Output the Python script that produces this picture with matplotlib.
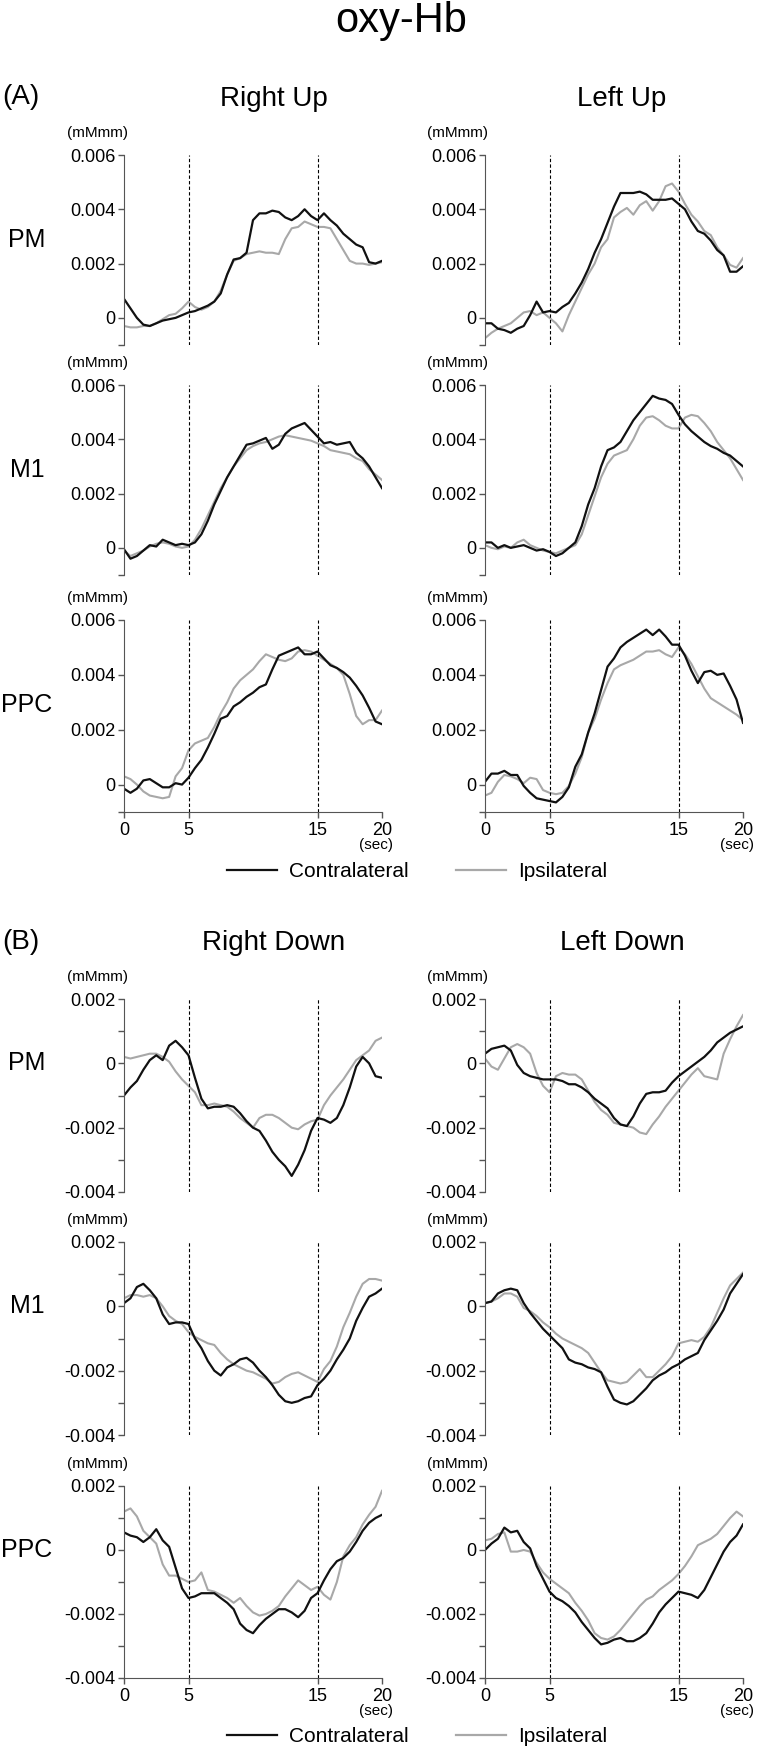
import numpy as np
import matplotlib
matplotlib.use("Agg")
import matplotlib.pyplot as plt
from matplotlib.lines import Line2D

plt.rcParams["font.family"] = ["Liberation Sans", "DejaVu Sans"]

# time axis (sec), one sample every 0.5 s
time_s = np.arange(41) * 0.5
UNIT = 0.001  # values below are in units of 0.001 mM·mm

# (A) Up condition ------------------------------------------------------
ru_pm_c = [0.7, 0.35, 0.0, -0.25, -0.3, -0.2, -0.1, -0.05, 0.0, 0.1, 0.2, 0.25, 0.35, 0.45, 0.6, 0.9, 1.6, 2.15,
           2.2, 2.4, 3.6, 3.85, 3.85, 3.95, 3.9, 3.7, 3.6, 3.75, 4.0, 3.75, 3.6, 3.85, 3.6, 3.4, 3.1, 2.9, 2.7,
           2.6, 2.05, 2.0, 2.1]
ru_pm_i = [-0.3, -0.35, -0.35, -0.3, -0.3, -0.2, -0.05, 0.1, 0.15, 0.35, 0.6, 0.4, 0.3, 0.4, 0.6, 1.0, 1.6, 2.1,
           2.2, 2.35, 2.4, 2.45, 2.4, 2.4, 2.35, 2.9, 3.3, 3.35, 3.55, 3.45, 3.35, 3.35, 3.3, 2.9, 2.5, 2.1, 2.0,
           2.0, 1.95, 2.0, 2.05]
lu_pm_c = [-0.2, -0.2, -0.4, -0.45, -0.55, -0.4, -0.3, 0.1, 0.6, 0.2, 0.25, 0.2, 0.4, 0.55, 0.9, 1.3, 1.8, 2.4,
           2.9, 3.5, 4.1, 4.6, 4.6, 4.6, 4.65, 4.55, 4.35, 4.35, 4.35, 4.4, 4.2, 4.0, 3.55, 3.2, 3.1, 2.85, 2.5,
           2.3, 1.7, 1.7, 1.9]
lu_pm_i = [-0.75, -0.55, -0.4, -0.3, -0.2, 0.0, 0.2, 0.25, 0.1, 0.2, 0.0, -0.2, -0.5, 0.1, 0.6, 1.1, 1.6, 2.0,
           2.6, 2.9, 3.7, 3.9, 4.05, 3.8, 4.15, 4.3, 3.95, 4.3, 4.85, 4.95, 4.65, 4.2, 3.8, 3.55, 3.2, 3.05, 2.6,
           2.3, 1.95, 1.85, 2.2]
ru_m1_c = [-0.05, -0.4, -0.3, -0.1, 0.1, 0.05, 0.3, 0.2, 0.1, 0.15, 0.1, 0.2, 0.5, 1.0, 1.6, 2.1, 2.6, 3.0,
           3.4, 3.8, 3.85, 3.95, 4.05, 3.65, 3.8, 4.2, 4.4, 4.5, 4.6, 4.35, 4.1, 3.85, 3.9, 3.8, 3.85, 3.9, 3.5,
           3.3, 3.0, 2.6, 2.2]
ru_m1_i = [-0.1, -0.3, -0.2, -0.1, 0.05, 0.15, 0.2, 0.15, 0.05, 0.0, 0.05, 0.3, 0.7, 1.2, 1.7, 2.2, 2.6, 3.0,
           3.3, 3.6, 3.75, 3.85, 3.9, 4.0, 4.1, 4.15, 4.1, 4.05, 4.0, 3.95, 3.85, 3.75, 3.6, 3.55, 3.5, 3.45,
           3.3, 3.2, 2.9, 2.7, 2.5]
lu_m1_c = [0.2, 0.2, 0.0, 0.1, 0.0, 0.05, 0.1, 0.0, -0.1, -0.05, -0.15, -0.3, -0.2, 0.0, 0.2, 0.8, 1.6, 2.2,
           3.0, 3.6, 3.7, 3.9, 4.3, 4.7, 5.0, 5.3, 5.6, 5.5, 5.45, 5.3, 4.9, 4.55, 4.3, 4.1, 3.9, 3.75, 3.65,
           3.5, 3.4, 3.2, 3.0]
lu_m1_i = [0.1, 0.0, -0.05, 0.05, 0.0, 0.2, 0.3, 0.1, 0.0, -0.1, -0.15, -0.2, -0.1, 0.0, 0.1, 0.5, 1.2, 1.9,
           2.6, 3.1, 3.4, 3.5, 3.6, 4.0, 4.5, 4.8, 4.85, 4.7, 4.5, 4.4, 4.4, 4.8, 4.9, 4.85, 4.6, 4.3, 3.9,
           3.6, 3.3, 2.9, 2.5]
ru_ppc_c = [-0.15, -0.3, -0.15, 0.15, 0.2, 0.05, -0.1, -0.1, 0.05, 0.0, 0.25, 0.6, 0.9, 1.35, 1.85, 2.4, 2.5,
            2.85, 3.0, 3.2, 3.35, 3.55, 3.65, 4.2, 4.7, 4.8, 4.9, 5.0, 4.75, 4.75, 4.85, 4.6, 4.35, 4.25, 4.1,
            3.9, 3.6, 3.25, 2.8, 2.3, 2.2]
ru_ppc_i = [0.3, 0.2, 0.0, -0.25, -0.4, -0.45, -0.5, -0.45, 0.3, 0.6, 1.25, 1.5, 1.6, 1.7, 2.1, 2.6, 3.0, 3.5,
            3.8, 4.0, 4.2, 4.5, 4.75, 4.65, 4.55, 4.5, 4.6, 4.85, 4.9, 4.85, 4.7, 4.55, 4.4, 4.25, 4.0, 3.3,
            2.5, 2.2, 2.35, 2.35, 2.7]
lu_ppc_c = [0.1, 0.4, 0.4, 0.5, 0.35, 0.35, -0.05, -0.3, -0.5, -0.55, -0.6, -0.65, -0.45, -0.1, 0.65, 1.1, 1.9,
            2.6, 3.45, 4.3, 4.6, 5.0, 5.2, 5.35, 5.5, 5.65, 5.45, 5.65, 5.4, 5.1, 5.1, 4.7, 4.15, 3.7, 4.1,
            4.15, 4.0, 4.05, 3.6, 3.1, 2.25]
lu_ppc_i = [-0.4, -0.3, 0.1, 0.35, 0.3, 0.2, 0.05, 0.25, 0.2, -0.2, -0.3, -0.35, -0.3, -0.05, 0.4, 1.0, 1.9,
            2.4, 3.1, 3.7, 4.2, 4.35, 4.45, 4.55, 4.7, 4.85, 4.85, 4.9, 4.75, 4.65, 5.0, 4.75, 4.4, 3.95, 3.5,
            3.15, 3.0, 2.85, 2.7, 2.55, 2.35]

# (B) Down condition ----------------------------------------------------
rd_pm_c = [-1.0, -0.75, -0.55, -0.2, 0.1, 0.25, 0.1, 0.55, 0.7, 0.5, 0.25, -0.45, -1.1, -1.4, -1.35, -1.35,
           -1.3, -1.35, -1.55, -1.8, -2.0, -2.1, -2.4, -2.75, -3.0, -3.2, -3.5, -3.15, -2.7, -2.1, -1.7, -1.75,
           -1.85, -1.7, -1.3, -0.75, -0.1, 0.2, 0.0, -0.4, -0.45]
rd_pm_i = [0.2, 0.15, 0.2, 0.25, 0.3, 0.3, 0.2, 0.05, -0.25, -0.5, -0.7, -0.9, -1.3, -1.3, -1.25, -1.3, -1.35,
           -1.5, -1.7, -1.85, -2.0, -1.7, -1.6, -1.6, -1.7, -1.85, -2.0, -2.05, -1.9, -1.8, -1.75, -1.3, -1.0,
           -0.75, -0.5, -0.2, 0.1, 0.25, 0.4, 0.7, 0.8]
ld_pm_c = [0.3, 0.45, 0.5, 0.55, 0.4, -0.05, -0.3, -0.4, -0.45, -0.5, -0.5, -0.5, -0.55, -0.65, -0.65, -0.75,
           -0.9, -1.1, -1.25, -1.4, -1.7, -1.9, -1.95, -1.65, -1.25, -0.95, -0.9, -0.9, -0.85, -0.6, -0.4,
           -0.25, -0.1, 0.05, 0.2, 0.4, 0.65, 0.8, 0.95, 1.05, 1.15]
ld_pm_i = [0.15, -0.1, -0.2, 0.15, 0.5, 0.6, 0.5, 0.3, -0.3, -0.7, -0.9, -0.4, -0.3, -0.35, -0.35, -0.5, -0.85,
           -1.2, -1.45, -1.6, -1.85, -1.9, -1.95, -2.0, -2.15, -2.2, -1.9, -1.65, -1.35, -1.1, -0.85, -0.6,
           -0.35, -0.15, -0.4, -0.45, -0.5, 0.3, 0.75, 1.15, 1.5]
rd_m1_c = [0.1, 0.25, 0.6, 0.7, 0.5, 0.25, -0.25, -0.55, -0.5, -0.5, -0.55, -1.0, -1.3, -1.7, -2.0, -2.15,
           -1.9, -1.8, -1.65, -1.6, -1.75, -2.0, -2.2, -2.45, -2.75, -2.95, -3.0, -2.95, -2.85, -2.8, -2.45,
           -2.25, -2.0, -1.65, -1.35, -1.0, -0.45, -0.05, 0.3, 0.4, 0.55]
rd_m1_i = [0.25, 0.35, 0.35, 0.3, 0.35, 0.25, 0.0, -0.3, -0.45, -0.55, -0.8, -0.95, -1.05, -1.15, -1.2, -1.45,
           -1.65, -1.8, -1.9, -2.0, -2.05, -2.15, -2.25, -2.4, -2.35, -2.2, -2.1, -2.05, -2.15, -2.25, -2.35,
           -1.95, -1.7, -1.25, -0.65, -0.2, 0.3, 0.7, 0.85, 0.85, 0.8]
ld_m1_c = [0.1, 0.15, 0.4, 0.5, 0.55, 0.5, 0.1, -0.2, -0.45, -0.7, -0.9, -1.1, -1.3, -1.65, -1.75, -1.8, -1.9,
           -1.95, -2.05, -2.5, -2.9, -3.0, -3.05, -2.95, -2.75, -2.55, -2.3, -2.15, -2.05, -1.9, -1.8, -1.65,
           -1.55, -1.45, -1.05, -0.75, -0.45, -0.1, 0.4, 0.7, 1.0]
ld_m1_i = [0.1, 0.15, 0.25, 0.4, 0.4, 0.3, -0.05, -0.15, -0.3, -0.5, -0.65, -0.85, -1.0, -1.1, -1.2, -1.3,
           -1.45, -1.75, -2.05, -2.3, -2.35, -2.4, -2.35, -2.15, -1.95, -2.2, -2.2, -2.0, -1.8, -1.55, -1.15,
           -1.1, -1.05, -1.1, -0.95, -0.65, -0.2, 0.25, 0.65, 0.85, 1.05]
rd_ppc_c = [0.55, 0.45, 0.4, 0.25, 0.4, 0.65, 0.3, 0.1, -0.55, -1.2, -1.5, -1.45, -1.35, -1.35, -1.35, -1.5,
            -1.65, -1.85, -2.3, -2.5, -2.6, -2.35, -2.15, -2.0, -1.85, -1.85, -1.95, -2.1, -1.9, -1.5, -1.35,
            -0.95, -0.6, -0.35, -0.25, -0.05, 0.25, 0.6, 0.85, 1.0, 1.1]
rd_ppc_i = [1.2, 1.3, 1.05, 0.6, 0.4, 0.2, -0.45, -0.8, -0.8, -0.9, -1.0, -0.95, -0.7, -1.25, -1.3, -1.4, -1.5,
            -1.65, -1.5, -1.75, -1.95, -2.05, -2.0, -1.9, -1.75, -1.45, -1.2, -0.95, -1.1, -1.25, -1.15, -1.4,
            -1.55, -1.0, -0.2, 0.15, 0.4, 0.8, 1.1, 1.35, 1.85]
ld_ppc_c = [0.0, 0.2, 0.35, 0.7, 0.55, 0.6, 0.25, 0.05, -0.5, -0.9, -1.3, -1.5, -1.6, -1.75, -1.95, -2.25, -2.5,
            -2.75, -2.95, -2.9, -2.8, -2.75, -2.85, -2.85, -2.75, -2.6, -2.3, -1.95, -1.7, -1.5, -1.3, -1.35,
            -1.4, -1.5, -1.25, -0.85, -0.45, -0.05, 0.25, 0.45, 0.8]
ld_ppc_i = [0.3, 0.35, 0.5, 0.55, -0.05, -0.05, 0.0, -0.05, -0.4, -0.7, -0.9, -1.05, -1.2, -1.35, -1.65, -1.9,
            -2.2, -2.6, -2.75, -2.8, -2.7, -2.5, -2.25, -2.0, -1.75, -1.55, -1.45, -1.25, -1.1, -0.95, -0.75,
            -0.5, -0.2, 0.15, 0.25, 0.35, 0.5, 0.75, 1.0, 1.2, 1.05]

region_names = ["PM", "M1", "PPC"]

# layout in pixels of the 758 x 1748 canvas
W, H = 758, 1748
col_x = [124, 485]
col_w = 258
rows_a = [(155, 345), (385, 575), (620, 812)]
rows_b = [(999, 1192), (1242, 1435), (1486, 1678)]

C_BLACK = "#111111"
C_GRAY = "#a8a8a8"
C_AXIS = "#555555"


def fx(px):
    return px / W


def fy(py):
    return 1 - py / H


fig = plt.figure(figsize=(W / 100, H / 100), dpi=100)


def make_panel(top, bottom, col, contra, ipsi, section, last_row):
    x0 = col_x[col]
    ax = fig.add_axes([fx(x0), fy(bottom), col_w / W, (bottom - top) / H])
    ax.plot(time_s, np.array(ipsi) * UNIT, color=C_GRAY, lw=1.5)
    ax.plot(time_s, np.array(contra) * UNIT, color=C_BLACK, lw=1.6)
    for xv in (5, 15):
        ax.axvline(xv, color="black", lw=0.8, ls=(0, (3, 2)))

    ax.set_xlim(0, 20)
    if section == "A":
        ax.set_ylim(-0.001, 0.006)
        ax.set_yticks([-0.001, 0, 0.002, 0.004, 0.006],
                      ["", "0", "0.002", "0.004", "0.006"])
    else:
        ax.set_ylim(-0.004, 0.002)
        ax.set_yticks([-0.004, -0.002, 0, 0.002],
                      ["-0.004", "-0.002", "0", "0.002"])
        ax.set_yticks([-0.003, -0.001, 0.001], minor=True)

    for side in ("top", "right"):
        ax.spines[side].set_visible(False)
    ax.spines["left"].set_color(C_AXIS)
    ax.spines["bottom"].set_color(C_AXIS)
    ax.tick_params(which="both", direction="out", length=4, width=1,
                   color=C_AXIS, labelsize=13, pad=2)

    if last_row:
        ax.set_xticks([0, 5, 15, 20], ["0", "5", "15", "20"])
        ax.tick_params(axis="x", pad=3)
        fig.text(fx(x0 + col_w - 6), fy(bottom + 33), "(sec)",
                 ha="center", va="center", fontsize=11)
    else:
        ax.spines["bottom"].set_visible(False)
        ax.tick_params(axis="x", bottom=False, labelbottom=False)

    fig.text(fx(x0 - 27), fy(top - 22), "(mMmm)", ha="center",
             va="center", fontsize=11)
    return ax


panels_a = [
    [(ru_pm_c, ru_pm_i), (lu_pm_c, lu_pm_i)],
    [(ru_m1_c, ru_m1_i), (lu_m1_c, lu_m1_i)],
    [(ru_ppc_c, ru_ppc_i), (lu_ppc_c, lu_ppc_i)],
]
panels_b = [
    [(rd_pm_c, rd_pm_i), (ld_pm_c, ld_pm_i)],
    [(rd_m1_c, rd_m1_i), (ld_m1_c, ld_m1_i)],
    [(rd_ppc_c, rd_ppc_i), (ld_ppc_c, ld_ppc_i)],
]

for r, (top, bottom) in enumerate(rows_a):
    for c in range(2):
        contra, ipsi = panels_a[r][c]
        make_panel(top, bottom, c, contra, ipsi, "A", r == 2)
    fig.text(fx(27), fy(top + 85), region_names[r], ha="center",
             va="center", fontsize=18)

for r, (top, bottom) in enumerate(rows_b):
    for c in range(2):
        contra, ipsi = panels_b[r][c]
        make_panel(top, bottom, c, contra, ipsi, "B", r == 2)
    fig.text(fx(27), fy(top + 64), region_names[r], ha="center",
             va="center", fontsize=18)

# titles
fig.text(fx(401), fy(32), "oxy-Hb", ha="center", va="baseline", fontsize=30)
fig.text(fx(2), fy(97), "(A)", ha="left", va="center", fontsize=20)
fig.text(fx(2), fy(942), "(B)", ha="left", va="center", fontsize=20)
fig.text(fx(274), fy(99), "Right Up", ha="center", va="center", fontsize=20)
fig.text(fx(622), fy(99), "Left Up", ha="center", va="center", fontsize=20)
fig.text(fx(274), fy(943), "Right Down", ha="center", va="center", fontsize=20)
fig.text(fx(622), fy(943), "Left Down", ha="center", va="center", fontsize=20)

# legends
handles = [Line2D([], [], color=C_BLACK, lw=1.6),
           Line2D([], [], color=C_GRAY, lw=1.6)]
for ly in (872, 1737):
    fig.legend(handles, ["Contralateral", "Ipsilateral"], loc="center",
               bbox_to_anchor=(fx(417), fy(ly)), ncol=2, frameon=False,
               fontsize=15, handlelength=2.4, handletextpad=0.6,
               columnspacing=2.25, borderpad=0)

fig.savefig("out.png", dpi=100)
